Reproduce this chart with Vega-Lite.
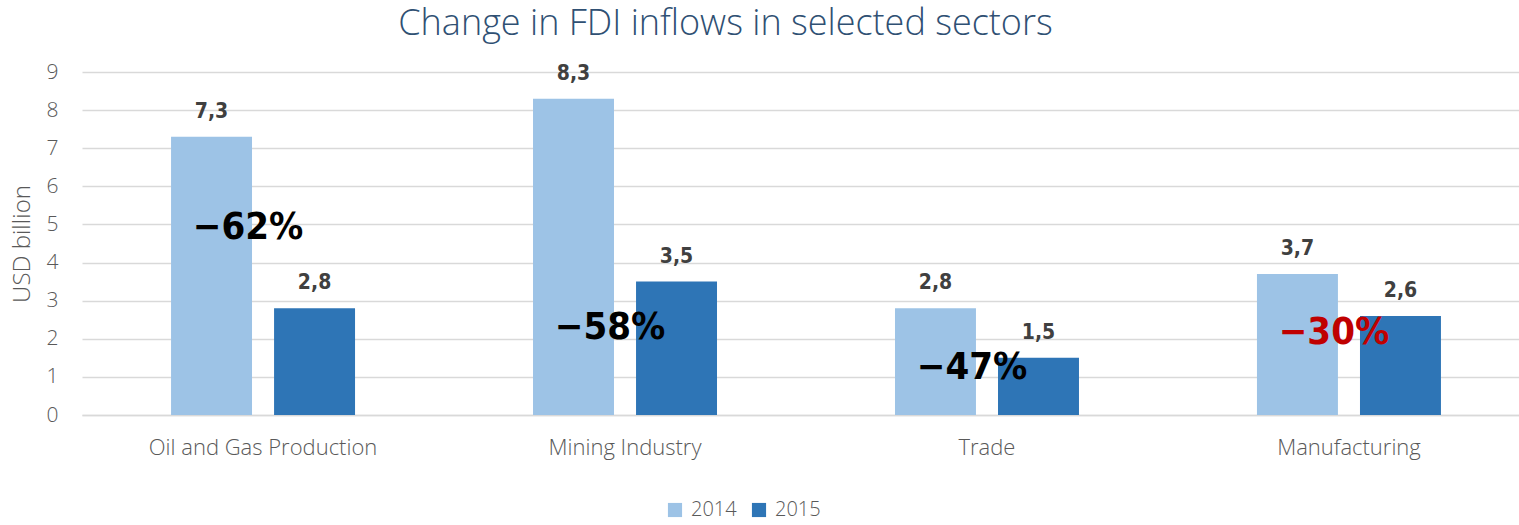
{
  "$schema": "https://vega.github.io/schema/vega-lite/v6.json",
  "width": 1437,
  "height": 343,
  "autosize": {"type": "none"},
  "padding": {"left": 82, "top": 72, "right": 0, "bottom": 110},
  "background": "#ffffff",
  "config": {
    "view": {"stroke": null},
    "font": "Open Sans",
    "locale": {"number": {"decimal": ",", "thousands": ".", "grouping": [3], "currency": ["", ""]}}
  },
  "title": {
    "text": "Change in FDI inflows in selected sectors",
    "font": "Open Sans",
    "fontSize": 36,
    "fontWeight": 300,
    "color": "#2F5073",
    "anchor": "middle",
    "dx": -75,
    "offset": 18
  },
  "datasets": {
    "bars": [
      {"sector": "Oil and Gas Production", "year": "2014", "value": 7.3},
      {"sector": "Oil and Gas Production", "year": "2015", "value": 2.8},
      {"sector": "Mining Industry", "year": "2014", "value": 8.3},
      {"sector": "Mining Industry", "year": "2015", "value": 3.5},
      {"sector": "Trade", "year": "2014", "value": 2.8},
      {"sector": "Trade", "year": "2015", "value": 1.5},
      {"sector": "Manufacturing", "year": "2014", "value": 3.7},
      {"sector": "Manufacturing", "year": "2015", "value": 2.6}
    ],
    "notes": [
      {"sector": "Oil and Gas Production", "value": 4.9, "label": "−62%"},
      {"sector": "Mining Industry", "value": 2.28, "label": "−58%"},
      {"sector": "Trade", "value": 1.23, "label": "−47%"},
      {"sector": "Manufacturing", "value": 2.15, "label": "−30%"}
    ]
  },
  "encoding": {
    "x": {
      "field": "sector", "type": "nominal", "sort": null,
      "scale": {"paddingInner": 0.4917, "paddingOuter": 0.246, "range": [0, 1448]},
      "axis": {
        "title": null, "labelAngle": 0, "labelFontSize": 22, "labelColor": "#595959",
        "labelFont": "Open Sans", "labelFontWeight": 300, "labelPadding": 22, "labelLimit": 0,
        "ticks": false, "domainColor": "#d9d9d9", "domainWidth": 1.5
      }
    },
    "y": {
      "field": "value", "type": "quantitative",
      "scale": {"domain": [0, 9], "nice": false},
      "axis": {
        "title": "USD billion", "titleFontSize": 24, "titleColor": "#595959", "titleFontWeight": 300,
        "titleFont": "Open Sans", "titlePadding": 12,
        "values": [0, 1, 2, 3, 4, 5, 6, 7, 8, 9], "labelOverlap": false,
        "labelFontSize": 21, "labelColor": "#595959", "labelFontWeight": 300, "labelFont": "Open Sans",
        "labelPadding": 24, "ticks": false, "domain": false,
        "gridColor": "#d9d9d9", "gridWidth": 1.5
      }
    }
  },
  "layer": [
    {
      "data": {"name": "bars"},
      "mark": {"type": "bar"},
      "encoding": {
        "xOffset": {"field": "year", "type": "nominal", "scale": {"paddingInner": 0.214, "paddingOuter": 0}},
        "color": {
          "field": "year", "type": "nominal",
          "scale": {"domain": ["2014", "2015"], "range": ["#9DC3E6", "#2E75B6"]},
          "legend": {
            "title": null, "orient": "none", "legendX": 583, "legendY": 428, "direction": "horizontal",
            "symbolType": "square", "symbolSize": 200, "symbolStrokeWidth": 0,
            "labelFontSize": 20, "labelColor": "#595959", "labelFont": "Open Sans", "labelFontWeight": 300,
            "labelOffset": 6, "columnPadding": 12
          }
        }
      }
    },
    {
      "data": {"name": "bars"},
      "mark": {"type": "text", "baseline": "bottom", "dy": -15, "font": "DejaVu Sans Condensed", "fontWeight": "bold", "fontSize": 21, "color": "#404040"},
      "encoding": {
        "xOffset": {"field": "year", "type": "nominal"},
        "text": {"field": "value", "type": "quantitative", "format": ".1f"}
      }
    },
    {
      "data": {"name": "notes"},
      "mark": {"type": "text", "baseline": "middle", "dx": -15, "font": "DejaVu Sans Condensed", "fontWeight": "bold", "fontSize": 38},
      "encoding": {
        "text": {"field": "label", "type": "nominal"},
        "color": {"condition": {"test": "datum.sector === 'Manufacturing'", "value": "#C00000"}, "value": "#000000"}
      }
    }
  ]
}
